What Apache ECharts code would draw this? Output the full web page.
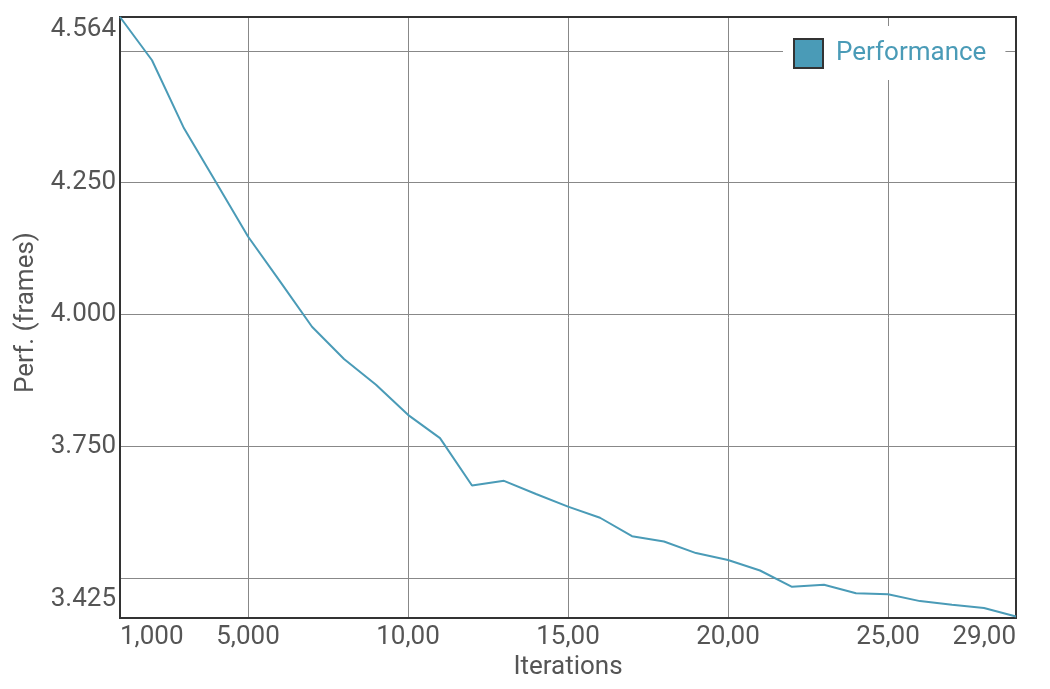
<!DOCTYPE html>
<html>
<head>
<meta charset="utf-8">
<script src="https://cdn.jsdelivr.net/npm/echarts@6/dist/echarts.min.js"></script>
<style>
html,body{margin:0;padding:0;background:#fff;}
#chart{width:1050px;height:689px;}
</style>
</head>
<body>
<div id="chart"></div>
<script>
// ---- data ----
const iterations = [1000,2000,3000,4000,5000,6000,7000,8000,9000,10000,
  11000,12000,13000,14000,15000,16000,17000,18000,19000,20000,
  21000,22000,23000,24000,25000,26000,27000,28000,29000];
const perf = [4.564,4.482,4.353,4.251,4.148,4.063,3.977,3.916,3.867,3.810,
  3.766,3.676,3.685,3.660,3.636,3.615,3.580,3.570,3.548,3.535,
  3.515,3.484,3.488,3.472,3.470,3.457,3.450,3.444,3.428];
const seriesName = 'Performance';
const xLabelValues = [1000,5000,10000,15000,20000,25000,29000];
const xLabelTexts = ['1,000','5,000','10,00','15,00','20,00','25,00','29,00'];
const xGridValues = [5000,10000,15000,20000,25000];
const yLabelValues = [3.425,3.75,4.0,4.25,4.564];
const yLabelTexts = ['3.425','3.750','4.000','4.250','4.564'];
const yGridValues = [3.5,3.75,4.0,4.25,4.5];
const yMin = 3.425, yMax = 4.564;
const xMin = 1000, xMax = 29000;

// ---- chart ----
const LINE = '#4a9bb7';
const TXT = '#555555';
const FONT = 'Roboto';
const chart = echarts.init(document.getElementById('chart'), null, {renderer:'canvas'});
function nearestIdx(arr, v){
  let b = 0, d = Infinity;
  arr.forEach((a,i)=>{ const dd = Math.abs(a-v); if (dd<d){d=dd;b=i;} });
  return b;
}
const richBase = {fontSize:26, color:TXT, fontFamily:FONT};
chart.setOption({
  animation:false,
  backgroundColor:'#fff',
  grid:{left:120, right:34, top:17, bottom:71, show:true, borderColor:'#333', borderWidth:2, backgroundColor:'transparent', z:3},
  legend:{
    data:[seriesName],
    left:783, top:26,
    orient:'horizontal',
    backgroundColor:'#fff',
    padding:[12,19,11,10],
    icon:'rect',
    itemWidth:29, itemHeight:29,
    itemStyle:{color:LINE, borderColor:'#333', borderWidth:2},
    textStyle:{color:LINE, fontSize:26, fontFamily:FONT, padding:[0,0,0,8]},
    z:10
  },
  xAxis:{
    type:'value', min:xMin, max:xMax,
    name:'Iterations', nameLocation:'middle', nameGap:25,
    nameTextStyle:{fontSize:26, color:TXT, fontFamily:FONT},
    axisLine:{show:false},
    axisTick:{show:false, customValues:xGridValues},
    splitLine:{show:true, lineStyle:{color:'#888', width:1}},
    axisLabel:{
      customValues:xLabelValues,
      fontSize:26, color:TXT, fontFamily:FONT, margin:6,
      alignMinLabel:'left', alignMaxLabel:'right',
      formatter:function(v){ return xLabelTexts[nearestIdx(xLabelValues, v)]; }
    }
  },
  yAxis:{
    type:'value', min:yMin, max:yMax,
    name:'Perf. (frames)', nameLocation:'middle', nameGap:80,
    nameTextStyle:{fontSize:26, color:TXT, fontFamily:FONT, padding:[0,0,0,10]},
    axisLine:{show:false},
    axisTick:{show:false, customValues:yGridValues},
    splitLine:{show:true, lineStyle:{color:'#888', width:1}},
    axisLabel:{
      customValues:yLabelValues,
      fontSize:26, color:TXT, fontFamily:FONT, margin:4,
      formatter:function(v){
        const i = nearestIdx(yLabelValues, v);
        if (i===0) return '{lo|'+yLabelTexts[i]+'}';
        if (i===yLabelValues.length-1) return '{hi|'+yLabelTexts[i]+'}';
        return '{n|'+yLabelTexts[i]+'}';
      },
      rich:{
        lo:Object.assign({padding:[0,0,37,0]}, richBase),
        hi:Object.assign({padding:[25,0,0,0]}, richBase),
        n:Object.assign({}, richBase)
      }
    }
  },
  series:[{
    name:seriesName,
    type:'line',
    data:iterations.map((x,i)=>[x, perf[i]]),
    showSymbol:false, symbol:'none',
    lineStyle:{color:LINE, width:2},
    itemStyle:{color:LINE},
    z:5
  }]
});
</script>
</body>
</html>
